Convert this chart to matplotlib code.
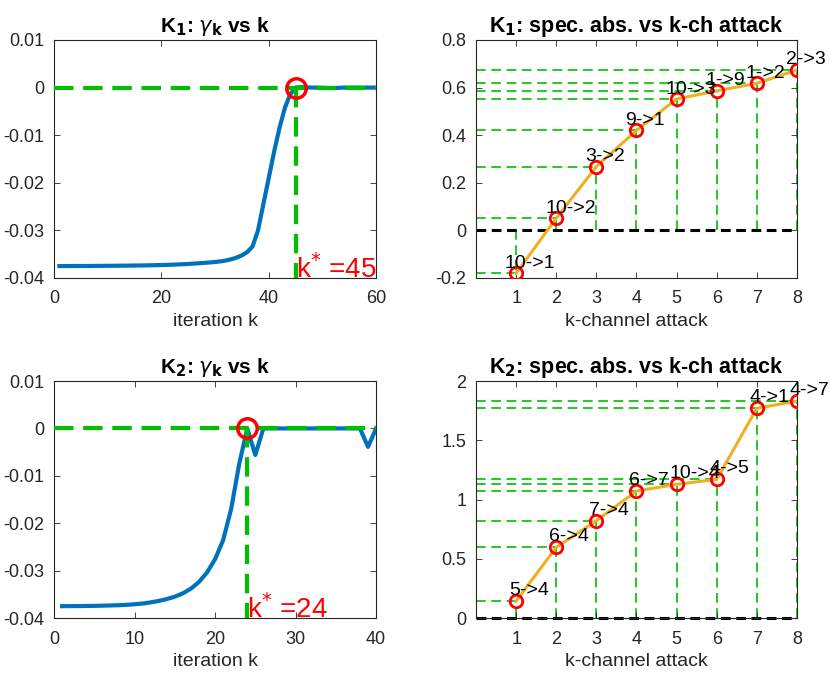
import matplotlib
matplotlib.use('Agg')
import matplotlib.pyplot as plt
import numpy as np

plt.rcParams['font.family'] = ['Liberation Sans', 'DejaVu Sans']
plt.rcParams['axes.unicode_minus'] = False
plt.rcParams['lines.scale_dashes'] = False

# gamma_k for K1, k = 1..60
gamma1 = [-0.03750, -0.03750, -0.03749, -0.03749, -0.03748, -0.03748, -0.03747, -0.03746,
          -0.03745, -0.03744, -0.03743, -0.03742, -0.03741, -0.03740, -0.03738, -0.03737,
          -0.03735, -0.03733, -0.03731, -0.03728, -0.03725, -0.03721, -0.03716, -0.03711,
          -0.03705, -0.03698, -0.03690, -0.03682, -0.03674, -0.03664, -0.03651, -0.03633,
          -0.03607, -0.03572, -0.03525, -0.03455, -0.03335, -0.03000, -0.02450, -0.01900,
          -0.01350, -0.00850, -0.00430, -0.00140, 0.00000, 0.00010, 0.00005, 0.00000,
          0.00000, -0.00005, -0.00008, -0.00010, -0.00005, 0.00000, 0.00000, 0.00000,
          0.00000, 0.00000, 0.00000, 0.00000]
kstar1 = 45

# gamma_k for K2, k = 1..40
gamma2 = [-0.03750, -0.03749, -0.03748, -0.03746, -0.03744, -0.03740, -0.03735, -0.03730,
          -0.03722, -0.03710, -0.03695, -0.03670, -0.03640, -0.03600, -0.03550, -0.03480,
          -0.03380, -0.03240, -0.03040, -0.02760, -0.02360, -0.01700, -0.00750, 0.00000,
          -0.00560, 0.00000, 0.00000, 0.00000, 0.00000, 0.00000, 0.00000, 0.00000,
          0.00000, 0.00000, 0.00000, 0.00000, 0.00000, 0.00000, -0.00390, 0.00000]
kstar2 = 24

# spectral abscissa vs k-channel attack
ch = [1, 2, 3, 4, 5, 6, 7, 8]
abs1 = [-0.180, 0.051, 0.268, 0.420, 0.552, 0.586, 0.618, 0.674]
lab1 = ['10->1', '10->2', '3->2', '9->1', '10->3', '1->9', '1->2', '2->3']
abs2 = [0.143, 0.597, 0.821, 1.072, 1.128, 1.170, 1.770, 1.831]
lab2 = ['5->4', '6->4', '7->4', '6->7', '10->4', '4->5', '4->1', '4->7']

blue = '#0072BD'
green = '#00BF00'
orange = '#EDB120'
dark = '#262626'

fig = plt.figure(figsize=(8.3, 6.81), dpi=100)
ax1 = fig.add_axes([0.0651, 0.5918, 0.388, 0.3495])
ax2 = fig.add_axes([0.5735, 0.5918, 0.3867, 0.3495])
ax3 = fig.add_axes([0.0651, 0.0925, 0.388, 0.348])
ax4 = fig.add_axes([0.5735, 0.0925, 0.3867, 0.348])


def style(ax):
    ax.tick_params(direction='in', top=True, right=True, length=4, width=0.6,
                   labelsize=13, colors=dark)
    ax.tick_params(axis='x', pad=9)
    ax.tick_params(axis='y', pad=7)
    for s in ax.spines.values():
        s.set_color(dark)
        s.set_linewidth(0.8)


def gamma_plot(ax, g, kstar, xmax, xticks, title):
    k = np.arange(1, len(g) + 1)
    ax.plot(k, g, color=blue, lw=3, zorder=2)
    ax.plot([0, xmax], [0, 0], color=green, lw=3, dashes=(14, 7), zorder=3)
    ax.plot([kstar, kstar], [0, -0.04], color=green, lw=3, dashes=(14, 7), zorder=3)
    ax.plot([kstar], [0], 'o', ms=14, mfc='none', mec='red', mew=2.5, zorder=4)
    ax.text(kstar, -0.0399, 'k$^{*}$ =%d' % kstar, color='red', fontsize=20,
            ha='left', va='baseline', zorder=5)
    ax.set_xlim(0, xmax)
    ax.set_ylim(-0.04, 0.01)
    ax.set_xticks(xticks)
    ax.set_yticks([-0.04, -0.03, -0.02, -0.01, 0, 0.01])
    ax.set_yticklabels(['-0.04', '-0.03', '-0.02', '-0.01', '0', '0.01'])
    ax.set_xlabel('iteration k', fontsize=14, color=dark, labelpad=4)
    ax.set_title(title, fontsize=15, fontweight='bold', pad=6)
    style(ax)


def abs_plot(ax, vals, labels, ylim, yticks, yticklabels, dx, dy, title):
    for x, y in zip(ch, vals):
        ax.plot([0, x], [y, y], color=green, lw=1.2, dashes=(7, 4), zorder=1)
        ax.plot([x, x], [0, y], color=green, lw=1.2, dashes=(7, 4), zorder=1)
    ax.plot([0, 8], [0, 0], color='k', lw=2.2, dashes=(7, 4), zorder=2, clip_on=False)
    ax.plot(ch, vals, color=orange, lw=2.2, zorder=3)
    ax.plot(ch, vals, 'o', ms=9, mfc='none', mec='red', mew=2, zorder=4)
    for x, y, s in zip(ch, vals, labels):
        ax.text(x + dx, y + dy, s, fontsize=14, ha='left', va='center', zorder=5)
    ax.set_xlim(0, 8)
    ax.set_ylim(*ylim)
    ax.set_xticks(ch)
    ax.set_yticks(yticks)
    ax.set_yticklabels(yticklabels)
    ax.set_xlabel('k-channel attack', fontsize=14, color=dark, labelpad=4)
    ax.set_title(title, fontsize=15.5, fontweight='bold', pad=6)
    style(ax)


gamma_plot(ax1, gamma1, kstar1, 60, [0, 20, 40, 60],
           r'K$_\mathbf{1}$: $\gamma_\mathbf{k}$ vs k')
gamma_plot(ax3, gamma2, kstar2, 40, [0, 10, 20, 30, 40],
           r'K$_\mathbf{2}$: $\gamma_\mathbf{k}$ vs k')
abs_plot(ax2, abs1, lab1, (-0.2, 0.8), [-0.2, 0, 0.2, 0.4, 0.6, 0.8],
         ['-0.2', '0', '0.2', '0.4', '0.6', '0.8'], -0.28, 0.042,
         r'K$_\mathbf{1}$: spec. abs. vs k-ch attack')
abs_plot(ax4, abs2, lab2, (0, 2), [0, 0.5, 1, 1.5, 2],
         ['0', '0.5', '1', '1.5', '2'], -0.18, 0.09,
         r'K$_\mathbf{2}$: spec. abs. vs k-ch attack')

fig.savefig('out.png', dpi=100)
